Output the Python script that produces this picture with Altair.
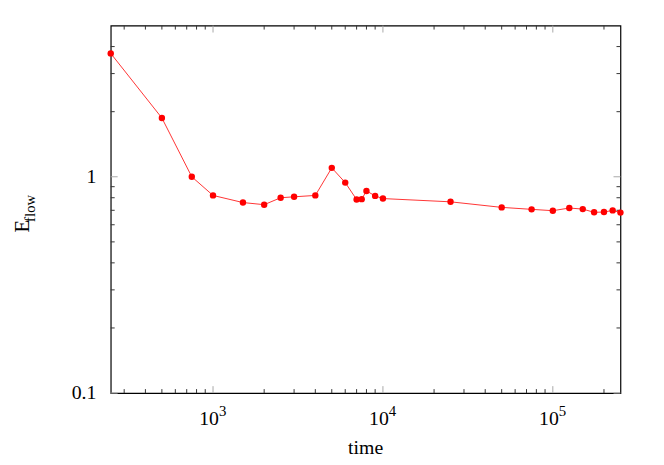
import altair as alt
import pandas as pd

# data
time = [250, 500, 750, 1000, 1500, 2000, 2500, 3000, 4000, 5000, 6000, 7000, 7500,
        8000, 9000, 10000, 25000, 50000, 75000, 100000, 125000, 150000, 175000,
        200000, 225000, 250000]
e_flow = [3.72, 1.87, 1.0, 0.82, 0.76, 0.743, 0.80, 0.808, 0.82, 1.10, 0.94, 0.785,
          0.788, 0.86, 0.816, 0.793, 0.766, 0.722, 0.707, 0.697, 0.717, 0.709, 0.685,
          0.687, 0.699, 0.683]

x_major = [1000, 10000, 100000]
x_exponents = ["3", "4", "5"]
x_minor = [300, 400, 500, 600, 700, 800, 900,
           2000, 3000, 4000, 5000, 6000, 7000, 8000, 9000,
           20000, 30000, 40000, 50000, 60000, 70000, 80000, 90000,
           200000]
y_major = [0.1, 1]
y_minor = [0.2, 0.3, 0.4, 0.5, 0.6, 0.7, 0.8, 0.9, 2, 3, 4]

W, H = 516, 372
FONT = "Liberation Serif"

xs = alt.Scale(type="log", domain=[250, 250000])
ys = alt.Scale(type="log", domain=[0.1, 5])

df = pd.DataFrame({"t": time, "E": e_flow})
dxmaj = pd.DataFrame({"t": x_major, "exp": x_exponents, "base": ["10"] * 3})
dxmin = pd.DataFrame({"t": x_minor})
dymaj = pd.DataFrame({"E": y_major})
dymin = pd.DataFrame({"E": y_minor})

X = alt.X("t:Q", scale=xs, axis=None)
Y = alt.Y("E:Q", scale=ys,
          axis=alt.Axis(values=y_major, format="~g", ticks=False, domain=False,
                        grid=False, labelFont=FONT, labelFontSize=20,
                        labelColor="black", labelPadding=15, title=None))

line = alt.Chart(df).mark_line(color="#ff0000", strokeWidth=0.8).encode(x=X, y=Y)
pts = alt.Chart(df).mark_point(filled=True, color="#ff0000", size=42, opacity=1).encode(x=X, y=Y)

def xticks(data, length, color):
    bot = alt.Chart(data).mark_rule(color=color, strokeWidth=1).encode(
        x=X, y=alt.value(H), y2=alt.value(H - length))
    top = alt.Chart(data).mark_rule(color=color, strokeWidth=1).encode(
        x=X, y=alt.value(0), y2=alt.value(length))
    return [bot, top]

def yticks(data, length, color):
    left = alt.Chart(data).mark_rule(color=color, strokeWidth=1).encode(
        y=Y, x=alt.value(0), x2=alt.value(length))
    right = alt.Chart(data).mark_rule(color=color, strokeWidth=1).encode(
        y=Y, x=alt.value(W), x2=alt.value(W - length))
    return [left, right]

ticks = (xticks(dxmaj, 7, "#a8a8a8") + xticks(dxmin, 4, "#333333")
         + yticks(dymaj, 7, "#a8a8a8") + yticks(dymin, 4, "#333333"))

base_lbl = alt.Chart(dxmaj).mark_text(font=FONT, fontSize=20, align="right",
                                      baseline="alphabetic", dx=6, color="black").encode(
    x=X, y=alt.value(H + 32), text="base:N")
exp_lbl = alt.Chart(dxmaj).mark_text(font=FONT, fontSize=15, align="left",
                                     baseline="alphabetic", dx=6, color="black").encode(
    x=X, y=alt.value(H + 23), text="exp:N")

xtitle = alt.Chart(pd.DataFrame({"s": ["time"]})).mark_text(
    font=FONT, fontSize=20, align="center", baseline="alphabetic", color="black").encode(
    x=alt.value(258), y=alt.value(H + 62), text="s:N")
ytitle_main = alt.Chart(pd.DataFrame({"s": ["E"]})).mark_text(
    font=FONT, fontSize=21, align="center", baseline="alphabetic", angle=270,
    color="black").encode(x=alt.value(-83), y=alt.value(203), text="s:N")
ytitle_sub = alt.Chart(pd.DataFrame({"s": ["flow"]})).mark_text(
    font=FONT, fontSize=15, align="center", baseline="alphabetic", angle=270,
    color="black").encode(x=alt.value(-77), y=alt.value(185), text="s:N")

chart = alt.layer(
    *ticks, line, pts, base_lbl, exp_lbl, xtitle, ytitle_main, ytitle_sub
).properties(
    width=W, height=H,
    background="white",
    autosize=alt.AutoSizeParams(type="none"),
    padding={"left": 104, "top": 15, "right": 36, "bottom": 70},
).configure_view(stroke="black", strokeWidth=1.2)

chart.save("out.html", embed_options={"renderer": "svg", "actions": False})
